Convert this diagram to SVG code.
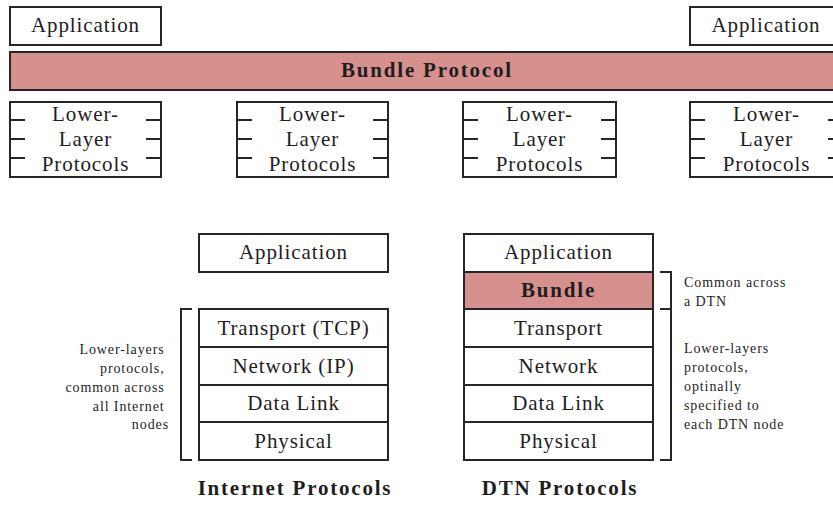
<svg xmlns="http://www.w3.org/2000/svg" width="833" height="505" viewBox="0 0 833 505">
  <style>
    .box { fill: #ffffff; stroke: #262626; stroke-width: 2; }
    .bp { fill: #d6918e; stroke: #262626; stroke-width: 2; }
    .tick { stroke: #262626; stroke-width: 2; fill: none; }
    .t { font-size: 21px; letter-spacing: 0.9px; fill: #1e1e1e; text-anchor: middle; }
    .b { font-size: 21px; font-weight: bold; letter-spacing: 1.8px; fill: #1e1e1e; text-anchor: middle; }
    .s { font-size: 14px; letter-spacing: 0.9px; fill: #1e1e1e; }
  </style>

  <g font-family="Liberation Serif, Times New Roman, serif">
  <!-- Top row: end-to-end view across a DTN -->
  <g id="app-left">
    <rect class="box" x="10" y="7" width="151" height="38"/>
    <text class="t" x="85.5" y="32">Application</text>
  </g>
  <g id="app-right">
    <rect class="box" x="690" y="7" width="152" height="38"/>
    <text class="t" x="766" y="32">Application</text>
  </g>
  <g id="bundle-protocol">
    <rect class="bp" x="10" y="52" width="840" height="38"/>
    <text class="b" x="427" y="77">Bundle Protocol</text>
  </g>

  <g id="llp-1">
    <rect class="box" x="10" y="102" width="151" height="75"/>
    <path class="tick" d="M10 120h15M10 139h15M10 158h15M161 120h-15M161 139h-15M161 158h-15"/>
    <text class="t" x="85.5" y="121">Lower-</text>
    <text class="t" x="85.5" y="146">Layer</text>
    <text class="t" x="85.5" y="171">Protocols</text>
  </g>
  <g id="llp-2">
    <rect class="box" x="237" y="102" width="151" height="75"/>
    <path class="tick" d="M237 120h15M237 139h15M237 158h15M388 120h-15M388 139h-15M388 158h-15"/>
    <text class="t" x="312.5" y="121">Lower-</text>
    <text class="t" x="312.5" y="146">Layer</text>
    <text class="t" x="312.5" y="171">Protocols</text>
  </g>
  <g id="llp-3">
    <rect class="box" x="463" y="102" width="153" height="75"/>
    <path class="tick" d="M463 120h15M463 139h15M463 158h15M616 120h-15M616 139h-15M616 158h-15"/>
    <text class="t" x="539.5" y="121">Lower-</text>
    <text class="t" x="539.5" y="146">Layer</text>
    <text class="t" x="539.5" y="171">Protocols</text>
  </g>
  <g id="llp-4">
    <rect class="box" x="690" y="102" width="153" height="75"/>
    <path class="tick" d="M690 120h15M690 139h15M690 158h15M843 120h-15M843 139h-15M843 158h-15"/>
    <text class="t" x="766.5" y="121">Lower-</text>
    <text class="t" x="766.5" y="146">Layer</text>
    <text class="t" x="766.5" y="171">Protocols</text>
  </g>

  <!-- Internet protocol stack -->
  <g id="inet-stack">
    <rect class="box" x="199" y="234" width="189" height="38"/>
    <text class="t" x="293.5" y="259">Application</text>
    <rect class="box" x="199" y="309" width="189" height="38"/>
    <text class="t" x="293.5" y="335">Transport (TCP)</text>
    <rect class="box" x="199" y="347" width="189" height="38"/>
    <text class="t" x="293.5" y="373">Network (IP)</text>
    <rect class="box" x="199" y="385" width="189" height="37"/>
    <text class="t" x="293.5" y="410">Data Link</text>
    <rect class="box" x="199" y="422" width="189" height="38"/>
    <text class="t" x="293.5" y="448">Physical</text>
    <text class="b" x="295" y="495">Internet Protocols</text>
  </g>

  <!-- DTN protocol stack -->
  <g id="dtn-stack">
    <rect class="box" x="464" y="234" width="189" height="38"/>
    <text class="t" x="558.5" y="259">Application</text>
    <rect class="bp" x="464" y="272" width="189" height="37"/>
    <text class="b" x="558.5" y="297">Bundle</text>
    <rect class="box" x="464" y="309" width="189" height="38"/>
    <text class="t" x="558.5" y="335">Transport</text>
    <rect class="box" x="464" y="347" width="189" height="38"/>
    <text class="t" x="558.5" y="373">Network</text>
    <rect class="box" x="464" y="385" width="189" height="37"/>
    <text class="t" x="558.5" y="410">Data Link</text>
    <rect class="box" x="464" y="422" width="189" height="38"/>
    <text class="t" x="558.5" y="448">Physical</text>
    <text class="b" x="560" y="495">DTN Protocols</text>
  </g>

  <!-- Brackets and annotations -->
  <g id="annotations">
    <path class="tick" d="M192 309h-11v151h11"/>
    <text class="s" x="169" text-anchor="end">
      <tspan x="169" y="354">Lower-layers</tspan>
      <tspan x="169" y="373">protocols,</tspan>
      <tspan x="169" y="392">common across</tspan>
      <tspan x="169" y="411">all Internet</tspan>
      <tspan x="169" y="429">nodes</tspan>
    </text>

    <path class="tick" d="M660 272h11v37h-11"/>
    <path class="tick" d="M660 309h11v151h-11"/>
    <text class="s">
      <tspan x="684" y="287">Common across</tspan>
      <tspan x="684" y="306">a DTN</tspan>
    </text>
    <text class="s">
      <tspan x="684" y="353">Lower-layers</tspan>
      <tspan x="684" y="372">protocols,</tspan>
      <tspan x="684" y="391">optinally</tspan>
      <tspan x="684" y="410">specified to</tspan>
      <tspan x="684" y="429">each DTN node</tspan>
    </text>
  </g>
  </g>
</svg>
